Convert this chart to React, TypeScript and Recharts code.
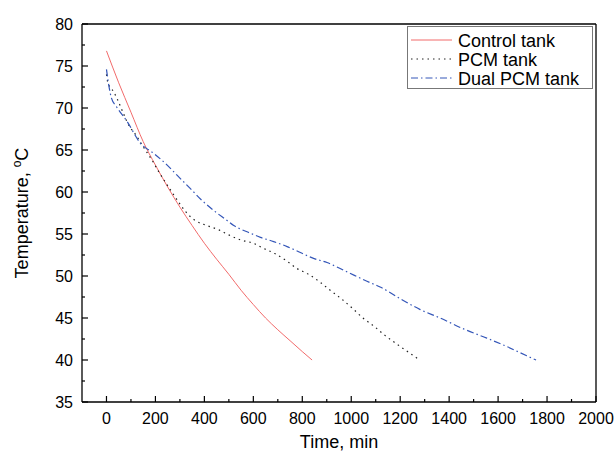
import { LineChart, Line, XAxis, YAxis, ReferenceLine } from "recharts";

const controlTime = [0, 50, 100, 150, 200, 250, 300, 350, 400, 450, 500, 550, 600, 650, 700, 750, 800, 840];
const controlTemp = [76.8, 73.0, 69.5, 66.0, 63.2, 60.6, 58.2, 56.0, 53.9, 52.0, 50.2, 48.3, 46.6, 45.0, 43.6, 42.3, 41.0, 40.0];

const pcmTime = [0, 5, 30, 45, 70, 90, 120, 152, 186, 214, 258, 302, 322, 363, 411, 458, 506, 547, 600, 641, 686, 731, 778, 826, 871, 914, 959, 1003, 1048, 1094, 1139, 1186, 1230, 1275];
const pcmTemp = [74.0, 73.1, 71.9, 71.0, 69.3, 68.0, 66.8, 65.3, 63.8, 62.4, 60.4, 58.5, 57.7, 56.6, 56.0, 55.5, 54.8, 54.3, 53.9, 53.3, 52.7, 51.9, 50.9, 50.2, 49.3, 48.3, 47.3, 46.2, 45.0, 44.0, 42.9, 41.9, 41.0, 40.1];

const dualTime = [0, 10, 20, 40, 84, 139, 193, 248, 295, 343, 390, 438, 493, 520, 547, 588, 629, 683, 738, 792, 846, 901, 982, 1078, 1118, 1200, 1282, 1363, 1459, 1554, 1636, 1717, 1755];
const dualTemp = [74.6, 72.6, 71.2, 70.2, 68.4, 65.8, 64.6, 63.2, 61.8, 60.4, 59.0, 57.8, 56.6, 56.0, 55.6, 55.1, 54.6, 54.1, 53.5, 52.8, 52.1, 51.6, 50.5, 49.2, 48.7, 47.3, 46.0, 45.0, 43.7, 42.6, 41.6, 40.5, 40.0];

const xTicks = [0, 100, 200, 300, 400, 500, 600, 700, 800, 900, 1000, 1100, 1200, 1300, 1400, 1500, 1600, 1700, 1800, 1900, 2000];
const yTicks = [35, 37.5, 40, 42.5, 45, 47.5, 50, 52.5, 55, 57.5, 60, 62.5, 65, 67.5, 70, 72.5, 75, 77.5, 80];

const seriesNames = ["Control tank", "PCM tank", "Dual PCM tank"];

const FONT = "'Liberation Sans', Arial, sans-serif";
const RED = "#f26b6b";
const BLACK = "#222";
const BLUE = "#3456b8";
const BLUE_DASH = "7 3 1.5 3";
const DOT_DASH = "1.5 4";

const toRows = (ts: number[], vs: number[]) => ts.map((t, i) => ({ t, v: vs[i] }));
const controlData = toRows(controlTime, controlTemp);
const pcmData = toRows(pcmTime, pcmTemp);
const dualData = toRows(dualTime, dualTemp);

function XTick(props: any) {
  const { x, y, payload } = props;
  const major = payload.value % 200 === 0;
  return (
    <g>
      <line x1={x} x2={x} y1={y} y2={y - (major ? 6 : 3)} stroke="#000" strokeWidth={1.2} />
      {major && (
        <text x={x} y={y + 22} textAnchor="middle" fontSize={16} fontFamily={FONT} fill="#000">
          {payload.value}
        </text>
      )}
    </g>
  );
}

function YTick(props: any) {
  const { x, y, payload } = props;
  const major = payload.value % 5 === 0;
  return (
    <g>
      <line x1={x} x2={x + (major ? 6 : 3)} y1={y} y2={y} stroke="#000" strokeWidth={1.2} />
      {major && (
        <text x={x - 9} y={y + 6} textAnchor="end" fontSize={16} fontFamily={FONT} fill="#000">
          {payload.value}
        </text>
      )}
    </g>
  );
}

function LegendBox() {
  const styles = [
    { stroke: RED, dash: undefined },
    { stroke: BLACK, dash: DOT_DASH },
    { stroke: BLUE, dash: BLUE_DASH },
  ];
  return (
    <svg width={186} height={63} style={{ position: "absolute", left: 407, top: 26 }}>
      <rect x={0.5} y={0.5} width={185} height={62} fill="#fff" stroke="#777" />
      {seriesNames.map((name, i) => {
        const cy = 14 + i * 19;
        return (
          <g key={name}>
            <line x1={4} x2={45} y1={cy} y2={cy} stroke={styles[i].stroke} strokeDasharray={styles[i].dash} strokeWidth={1} />
            <text x={51} y={cy + 6.5} fontSize={18} fontFamily={FONT} fill="#000">
              {name}
            </text>
          </g>
        );
      })}
    </svg>
  );
}

export default function App() {
  return (
    <div style={{ position: "absolute", left: 0, top: 0, width: 614, height: 454, background: "#fff" }}>
      <LineChart width={614} height={454} margin={{ top: 24, right: 18, left: 0, bottom: 0 }}>
        <XAxis
          dataKey="t"
          type="number"
          domain={[-100, 2000]}
          ticks={xTicks}
          interval={0}
          tickSize={0}
          tickMargin={0}
          tick={<XTick />}
          height={52}
          axisLine={{ stroke: "#000", strokeWidth: 1.3 }}
          allowDataOverflow
          label={{
            value: "Time, min",
            position: "insideBottom",
            offset: 6,
            fontSize: 18,
            fontFamily: FONT,
            fill: "#000",
          }}
        />
        <YAxis
          dataKey="v"
          type="number"
          domain={[35, 80]}
          ticks={yTicks}
          interval={0}
          tickSize={0}
          tickMargin={0}
          tick={<YTick />}
          width={82}
          axisLine={{ stroke: "#000", strokeWidth: 1.3 }}
          allowDataOverflow
          label={{
            content: () => (
              <text
                x={28}
                y={213}
                transform="rotate(-90 28 213)"
                textAnchor="middle"
                fontSize={18}
                fontFamily={FONT}
                fill="#000"
              >
                Temperature,{" "}
                <tspan dy={-7} fontSize={12}>o</tspan>
                <tspan dy={7}>C</tspan>
              </text>
            ),
          }}
        />
        <ReferenceLine y={80} stroke="#000" strokeWidth={1.3} />
        <ReferenceLine x={2000} stroke="#000" strokeWidth={1.3} />
        <Line
          data={controlData}
          dataKey="v"
          name={seriesNames[0]}
          type="monotone"
          stroke={RED}
          strokeWidth={1}
          dot={false}
          isAnimationActive={false}
        />
        <Line
          data={pcmData}
          dataKey="v"
          name={seriesNames[1]}
          type="monotone"
          stroke={BLACK}
          strokeWidth={1.2}
          strokeDasharray={DOT_DASH}
          dot={false}
          isAnimationActive={false}
        />
        <Line
          data={dualData}
          dataKey="v"
          name={seriesNames[2]}
          type="monotone"
          stroke={BLUE}
          strokeWidth={1.2}
          strokeDasharray={BLUE_DASH}
          dot={false}
          isAnimationActive={false}
        />
      </LineChart>
      <LegendBox />
    </div>
  );
}
